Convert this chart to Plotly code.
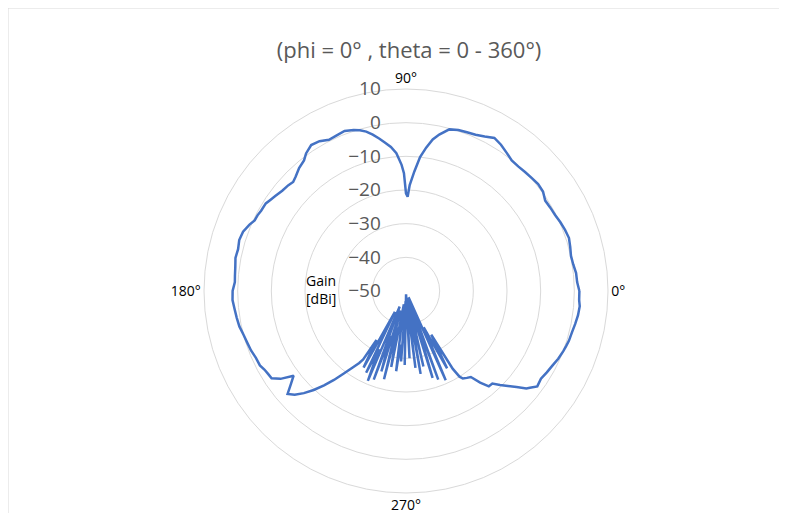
import plotly.graph_objects as go

# Gain pattern, phi = 0 deg cut (theta in degrees, gain in dBi)
theta_main = [0, 3, 6, 9, 12, 15, 18, 21, 24, 27, 30, 33, 36, 39, 42, 45, 48, 51, 54, 57,
              60, 63, 66, 69, 72, 75, 78, 80, 82, 84, 86, 88, 89, 90, 91, 92, 94, 96, 98, 100,
              102, 104, 106, 108, 111, 114, 117, 120, 123, 126, 128, 131, 134, 136, 138, 141,
              144, 146, 148, 151, 153, 155, 157, 160, 163, 166, 169, 172, 175, 177, 180, 183,
              186, 189, 192, 195, 198, 201, 204, 207, 209, 211, 213, 215, 217, 219, 221, 223,
              225, 227, 229, 231, 233, 235, 237]
gain_main = [1.5, 0.9, 0.8, 0.3, 0.1, 0.5, 0.9, 0.6, 0.2, -0.3, -0.5, -0.7, 0.3, 0.5, 0.2, 0.0,
             -0.2, -0.1, 0.8, 1.8, 2.5, 1.5, 0.8, 0.5, 0.3, -0.3, -2.5, -4.3, -7, -10, -14.4,
             -18.5, -22, -21, -15, -12.5, -9, -7, -5.5, -4, -2.5, -1.2, -0.3, 0.3, 0.9, 0.6,
             0.4, 1.4, 1.7, 0.5, -0.8, -1.6, -2.8, -3.4, -3.0, -2.7, -2.0, -1.5, -0.9, -0.8,
             -0.5, -0.4, 0.5, 1.5, 1.8, 1.4, 1.6, 1.2, 1.0, 0.9, 1.5, 1.6, 1.2, 0.9, 0.6, 0.0,
             -0.4, -0.7, -1.2, -1.3, -1.9, -2.2, -2.4, -4.5, -8.2, -6, -3.4, -4.8, -7.1, -9.8,
             -12.9, -16, -19.3, -22.2, -24.5]

# back lobe region (noisy)
theta_back = [238, 239, 241, 242, 244, 245, 247, 248, 250, 251, 253, 254, 256, 257, 259, 261,
              263, 264, 266, 268, 269, 271, 273, 275, 277, 278, 280, 282, 283, 285, 287, 289,
              290, 292, 294, 296, 298, 300, 301, 302]
gain_back = [-26, -33, -24, -43, -23, -31, -21, -45, -22, -36, -25, -44, -23, -39, -27, -46,
             -26, -34, -29, -47, -28, -49, -30, -46, -27, -48, -25, -45, -27, -47, -23, -41,
             -22, -48, -21, -38, -24, -35, -23, -20]

theta_tail = [303, 305, 307, 309, 311, 313, 315, 317, 319, 321, 322, 324, 327, 330, 333, 336,
              339, 341, 343, 346, 349, 352, 355, 357, 360]
gain_tail = [-19, -18.5, -18, -15, -12.5, -12.4, -10.5, -8.6, -6.5, -4, -3.3, -1.8, -2.2, -1.7,
             -1.2, -0.5, 0.0, 0.3, 0.6, 0.8, 1.2, 1.6, 1.8, 1.5, 1.5]

theta = theta_main + theta_back + theta_tail
gain = gain_main + gain_back + gain_tail

angle_ticks = [0, 90, 180, 270]
angle_labels = ["0°", "90°", "180°", "270°"]
gain_ticks = [-50, -40, -30, -20, -10, 0, 10]

W, H = 779, 505

fig = go.Figure(go.Scatterpolar(
    r=gain,
    theta=theta,
    mode="lines",
    line=dict(color="#4472C4", width=2.5),
    showlegend=False,
))

fig.update_layout(
    width=W,
    height=H,
    paper_bgcolor="white",
    margin=dict(l=0, r=0, t=0, b=0),
    font=dict(family="Open Sans", color="#000000"),
    title=dict(
        text="(phi = 0° , theta = 0 - 360°)",
        x=401 / W, xanchor="center", y=1 - 42 / H, yanchor="middle",
        font=dict(size=22, color="#595959"),
    ),
    polar=dict(
        domain=dict(x=[196 / W, 600 / W], y=[1 - 487 / H, 1 - 79 / H]),
        bgcolor="white",
        radialaxis=dict(
            range=[-50, 10],
            tickvals=gain_ticks,
            angle=90,
            tickangle=90,
            side="counterclockwise",
            showline=False,
            ticks="outside",
            ticklen=18,
            tickcolor="rgba(0,0,0,0)",
            gridcolor="#d9d9d9",
            gridwidth=1,
            tickfont=dict(size=19, color="#595959"),
        ),
        angularaxis=dict(
            rotation=0,
            direction="counterclockwise",
            tickvals=angle_ticks,
            ticktext=angle_labels,
            showgrid=False,
            showline=True,
            linecolor="#d9d9d9",
            linewidth=1,
            ticks="",
            tickfont=dict(size=14, color="#000000"),
        ),
    ),
    annotations=[dict(
        text="Gain<br>[dBi]", x=296 / W, y=1 - 281 / H,
        xref="paper", yref="paper", xanchor="left", yanchor="middle",
        align="left", showarrow=False, font=dict(size=14, color="#000000"),
    )],
    shapes=[dict(
        type="rect", xref="paper", yref="paper",
        x0=0, x1=1.05, y0=-0.05, y1=1,
        line=dict(color="#d9d9d9", width=1),
    )],
)

fig.write_html("out.html")
